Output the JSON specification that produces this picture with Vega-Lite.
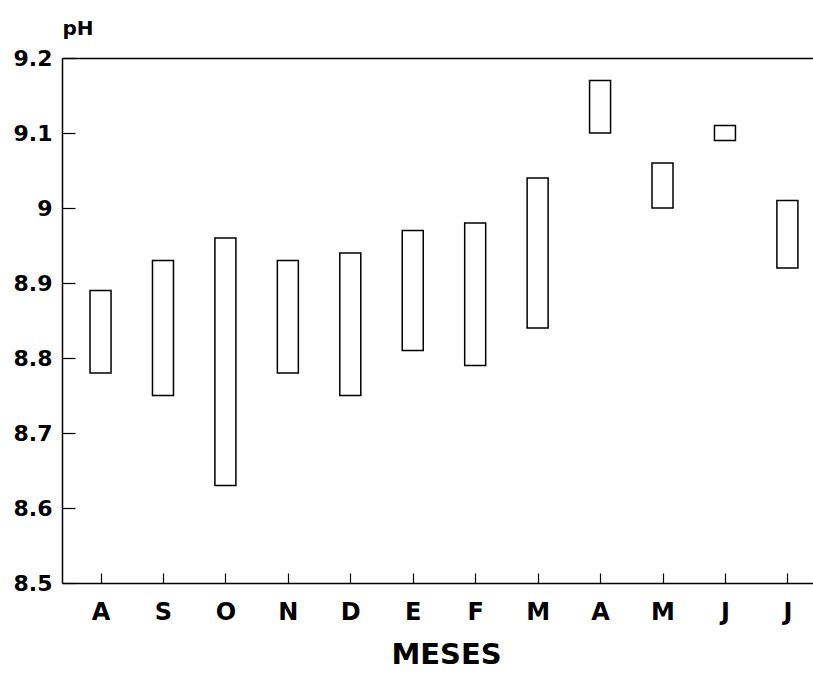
{
  "$schema": "https://vega.github.io/schema/vega-lite/v6.json",
  "width": 751,
  "height": 525,
  "autosize": {"type": "none"},
  "padding": {"left": 62, "top": 58, "right": 0, "bottom": 90},
  "background": "white",
  "config": {"view": {"stroke": null}, "font": "DejaVu Sans"},
  "data": {
    "values": [
      {"idx": 1, "mes": "A", "min": 8.78, "max": 8.89},
      {"idx": 2, "mes": "S", "min": 8.75, "max": 8.93},
      {"idx": 3, "mes": "O", "min": 8.63, "max": 8.96},
      {"idx": 4, "mes": "N", "min": 8.78, "max": 8.93},
      {"idx": 5, "mes": "D", "min": 8.75, "max": 8.94},
      {"idx": 6, "mes": "E", "min": 8.81, "max": 8.97},
      {"idx": 7, "mes": "F", "min": 8.79, "max": 8.98},
      {"idx": 8, "mes": "M", "min": 8.84, "max": 9.04},
      {"idx": 9, "mes": "A", "min": 9.10, "max": 9.17},
      {"idx": 10, "mes": "M", "min": 9.00, "max": 9.06},
      {"idx": 11, "mes": "J", "min": 9.09, "max": 9.11},
      {"idx": 12, "mes": "J", "min": 8.92, "max": 9.01}
    ]
  },
  "layer": [
    {
      "mark": {"type": "bar", "width": 21, "fill": "white", "stroke": "black", "strokeWidth": 1.5},
      "encoding": {
        "x": {
          "field": "idx",
          "type": "quantitative",
          "scale": {"domain": [0.463, 12.33], "nice": false, "zero": false},
          "axis": {
            "orient": "bottom",
            "values": [1, 2, 3, 4, 5, 6, 7, 8, 9, 10, 11, 12],
            "labelExpr": "['A','S','O','N','D','E','F','M','A','M','J','J'][datum.value-1]",
            "grid": false,
            "domainColor": "black",
            "domainWidth": 1.5,
            "tickColor": "black",
            "tickWidth": 1.2,
            "tickSize": -10,
            "labelFont": "DejaVu Sans",
            "labelFontWeight": "bold",
            "labelFontSize": 24,
            "labelColor": "black",
            "labelPadding": 27,
            "labelFlush": false,
            "labelOverlap": false,
            "title": "MESES",
            "titleFont": "DejaVu Sans",
            "titleFontWeight": "bold",
            "titleFontSize": 29,
            "titleColor": "black",
            "titleX": 384,
            "titleY": 80,
            "titleAlign": "center",
            "titleBaseline": "alphabetic"
          }
        },
        "y": {
          "field": "min",
          "type": "quantitative",
          "scale": {"domain": [8.5, 9.2], "nice": false, "zero": false},
          "axis": {
            "values": [8.5, 8.6, 8.7, 8.8, 8.9, 9.0, 9.1, 9.2],
            "labelExpr": "datum.value == 9 ? '9' : format(datum.value, '.1f')",
            "grid": false,
            "domainColor": "black",
            "domainWidth": 1.5,
            "tickColor": "black",
            "tickWidth": 1.2,
            "tickSize": -13,
            "labelFont": "DejaVu Sans",
            "labelFontWeight": "bold",
            "labelFontSize": 22,
            "labelColor": "black",
            "labelPadding": 23,
            "labelFlush": false,
            "labelOverlap": false,
            "title": "pH",
            "titleFont": "DejaVu Sans",
            "titleFontWeight": "bold",
            "titleFontSize": 20,
            "titleColor": "black",
            "titleAngle": 0,
            "titleX": 0,
            "titleY": -24,
            "titleAlign": "left",
            "titleBaseline": "alphabetic"
          }
        },
        "y2": {"field": "max"}
      }
    },
    {
      "mark": {"type": "bar", "width": 21, "opacity": 0},
      "encoding": {
        "x": {
          "field": "idx",
          "type": "quantitative",
          "axis": {
            "orient": "top",
            "labels": false,
            "ticks": false,
            "grid": false,
            "title": null,
            "domainColor": "black",
            "domainWidth": 1.5
          }
        },
        "y": {"field": "min", "type": "quantitative"},
        "y2": {"field": "max"}
      }
    }
  ],
  "resolve": {"axis": {"x": "independent"}}
}
